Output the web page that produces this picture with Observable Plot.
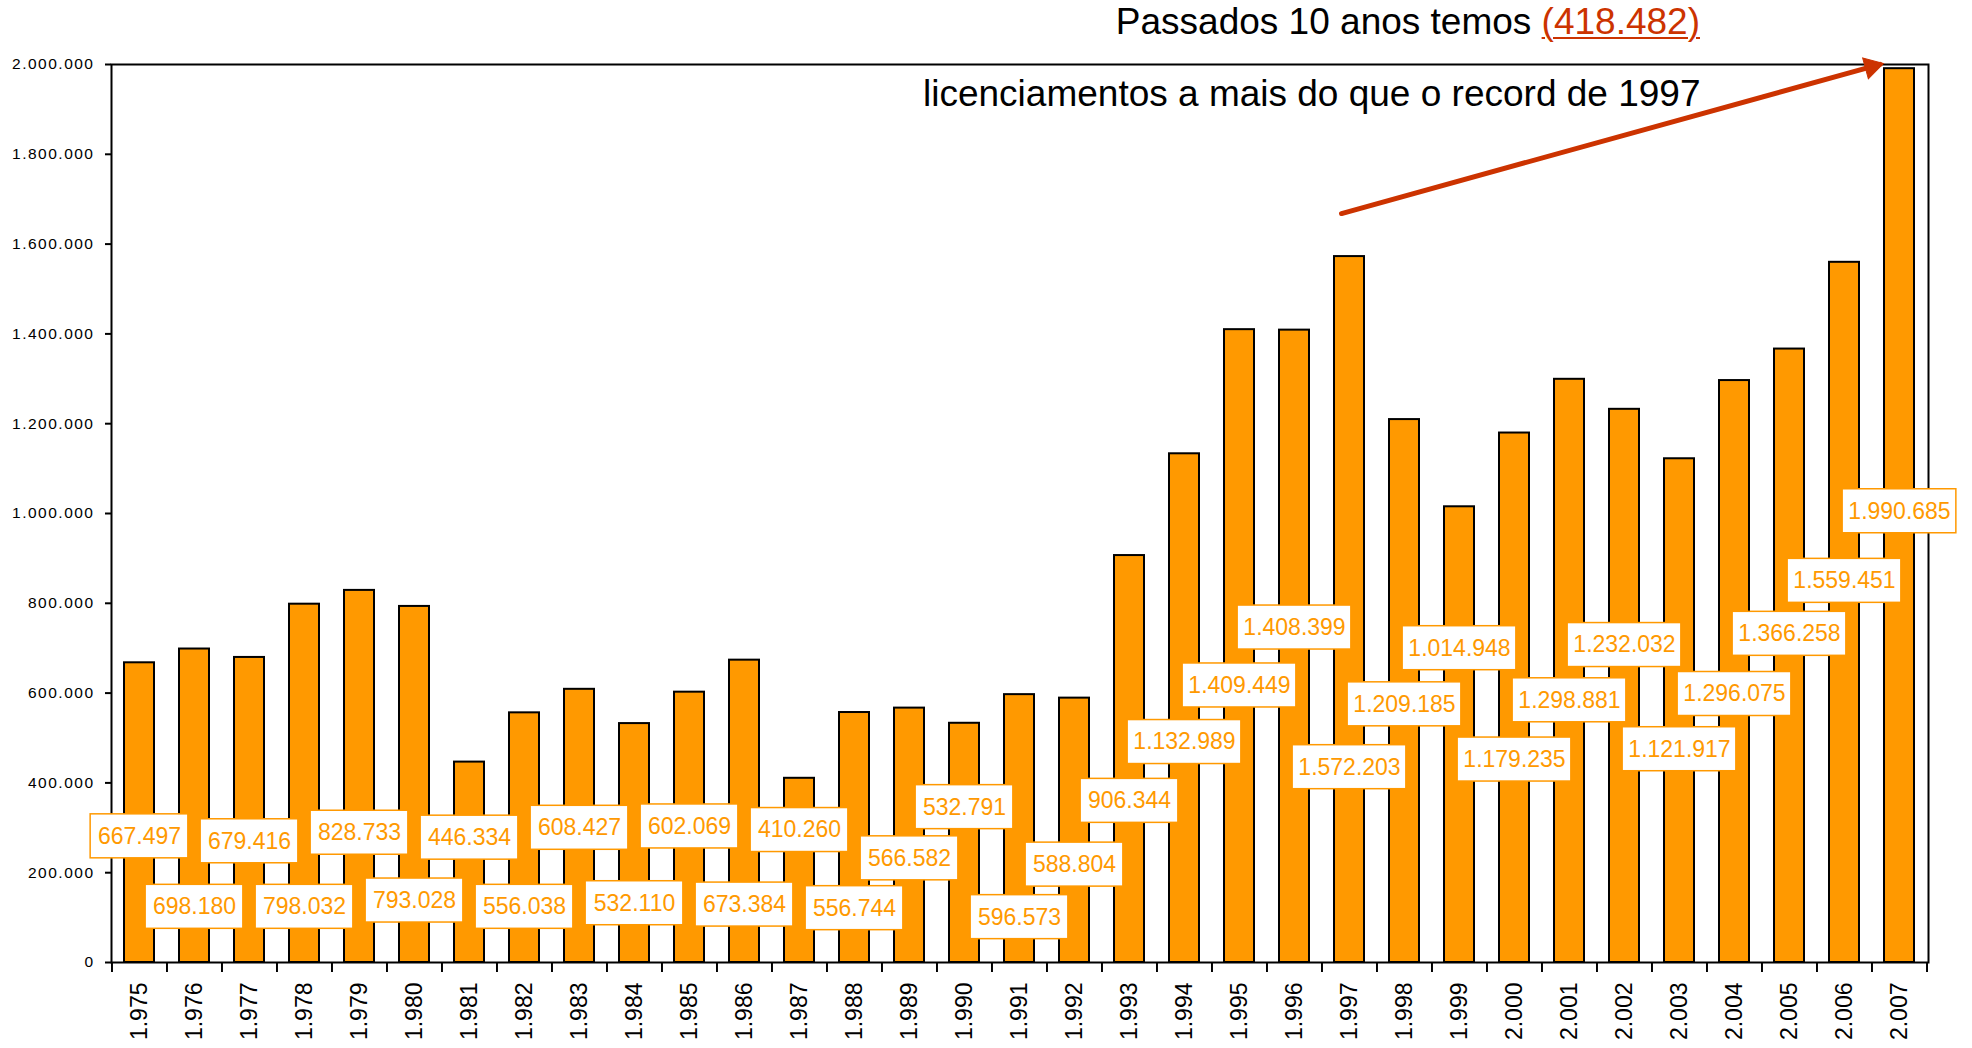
<!DOCTYPE html>
<html>
<head>
<meta charset="utf-8">
<script src="https://cdn.jsdelivr.net/npm/d3@7"></script>
<script src="https://cdn.jsdelivr.net/npm/@observablehq/plot@0.6"></script>
<style>
  html, body { margin: 0; padding: 0; background: #fff; }
  body { width: 1972px; height: 1048px; overflow: hidden; font-family: "Liberation Sans", Arial, sans-serif; }
  #title { position: relative; height: 50px; }
  #title span.t { position: absolute; right: 272px; top: 4px; font-size: 37px; line-height: 36px; color: #000; white-space: nowrap; }
  #title span.red { color: #CC3300; text-decoration: underline; text-decoration-thickness: 2px; text-underline-offset: 3px; }
  [aria-label="y-axis tick label"] { letter-spacing: 1.5px; font-size: 15.5px; }
  [aria-label="x-axis tick label"] { font-size: 23px; }
</style>
</head>
<body>
<div id="title"><span class="t"></span></div>
<div id="chart"></div>
<script>
// ---- data ----
const years = [1975,1976,1977,1978,1979,1980,1981,1982,1983,1984,1985,1986,1987,1988,1989,1990,1991,1992,1993,1994,1995,1996,1997,1998,1999,2000,2001,2002,2003,2004,2005,2006,2007];
const values = [667497,698180,679416,798032,828733,793028,446334,556038,608427,532110,602069,673384,410260,556744,566582,532791,596573,588804,906344,1132989,1409449,1408399,1572203,1209185,1014948,1179235,1298881,1232032,1121917,1296075,1366258,1559451,1990685];
// where each value label sits (in value units)
const labelAt = [281000,124000,270000,124000,289000,138000,278000,124000,300000,132000,303000,129000,295000,121000,232000,346000,101000,218000,360000,491000,617000,746000,435000,575000,700000,452000,584000,707000,475000,598000,732000,850000,1005000];
const yTicks = [0,200000,400000,600000,800000,1000000,1200000,1400000,1600000,1800000,2000000];
const titleText = "Passados 10 anos temos ";
const titleHighlight = "(418.482)";
const noteText = "licenciamentos a mais do que o record de 1997";
const arrowFrom = {year: 1997, value: 1668000};
const arrowTo = {year: 2007, value: 2007300};
const arrowHead = {year: 2007, value: 1995000};

// ---- build ----
const FONT = "'Liberation Sans', Arial, Helvetica, sans-serif";
const fmt = d3.formatLocale({decimal: ",", thousands: ".", grouping: [3], currency: ["", ""]}).format(",d");
const rows = years.map((year, i) => ({year, value: values[i], at: labelAt[i], label: fmt(values[i])}));

const W = 1972, H = 998, ML = 111, MR = 44, MT = 14, MB = 86;
const padInner = 0.45;
const step = (W - ML - MR) / years.length;
const bw = step * (1 - padInner);
const yMax = 2000000;
const perPx = yMax / (H - MT - MB);
const hh = 22 * perPx;
const insetSmall = (bw - 98) / 2;
const insetBig = (bw - 114) / 2;
const ORANGE = "#FF9900";
const RED = "#CC3300";

const t = document.querySelector("#title span.t");
t.appendChild(document.createTextNode(titleText));
const r = document.createElement("span"); r.className = "red"; r.textContent = titleHighlight; t.appendChild(r);

const small = rows.filter(d => d.label.length <= 7);
const big = rows.filter(d => d.label.length > 7);

const chart = Plot.plot({
  width: W, height: H,
  marginLeft: ML, marginRight: MR, marginTop: MT, marginBottom: MB,
  style: {fontFamily: FONT, background: "white", overflow: "visible", color: "black"},
  x: {type: "band", domain: years, paddingInner: padInner, paddingOuter: padInner / 2, label: null},
  y: {domain: [0, yMax], label: null},
  marks: [
    Plot.barY(rows, {x: "year", y: "value", fill: ORANGE, stroke: "black", strokeWidth: 2}),
    Plot.frame({stroke: "black", strokeWidth: 2}),
    Plot.axisY(yTicks, {tickFormat: fmt, tickSize: 6, tickPadding: 11, fontSize: 15.5, strokeWidth: 2}),
    Plot.axisX(years, {tickSize: 0, tickPadding: 20, tickRotate: -90, tickFormat: fmt, fontSize: 23, fill: "black"}),
    Plot.axisX(years, {tickSize: 10, tickFormat: () => "", dx: -step / 2, strokeWidth: 2}),
    Plot.axisX([years[years.length - 1]], {tickSize: 10, tickFormat: () => "", dx: step / 2, strokeWidth: 2}),
    Plot.barY(small, {x: "year", y1: d => d.at - hh, y2: d => d.at + hh, fill: "white", stroke: ORANGE, strokeWidth: 1.5, insetLeft: insetSmall, insetRight: insetSmall}),
    Plot.barY(big, {x: "year", y1: d => d.at - hh, y2: d => d.at + hh, fill: "white", stroke: ORANGE, strokeWidth: 1.5, insetLeft: insetBig, insetRight: insetBig}),
    Plot.text(rows, {x: "year", y: "at", text: "label", fill: ORANGE, fontSize: 23}),
    Plot.text([noteText], {text: d => d, frameAnchor: "top-right", textAnchor: "end", lineAnchor: "middle", dx: -228, dy: 30, fontSize: 37, fill: "black"}),
    Plot.arrow([{}], {x1: () => arrowFrom.year, y1: () => arrowFrom.value, x2: () => arrowTo.year, y2: () => arrowTo.value, dx: -8, insetEnd: 12, headLength: 0, stroke: RED, strokeWidth: 5}),
    Plot.dot([arrowHead], {x: "year", y: "value", dx: -28, symbol: "triangle", r: 8, rotate: 74.6, fill: RED, stroke: RED, strokeWidth: 1})
  ]
});
document.getElementById("chart").appendChild(chart);
</script>
</body>
</html>
